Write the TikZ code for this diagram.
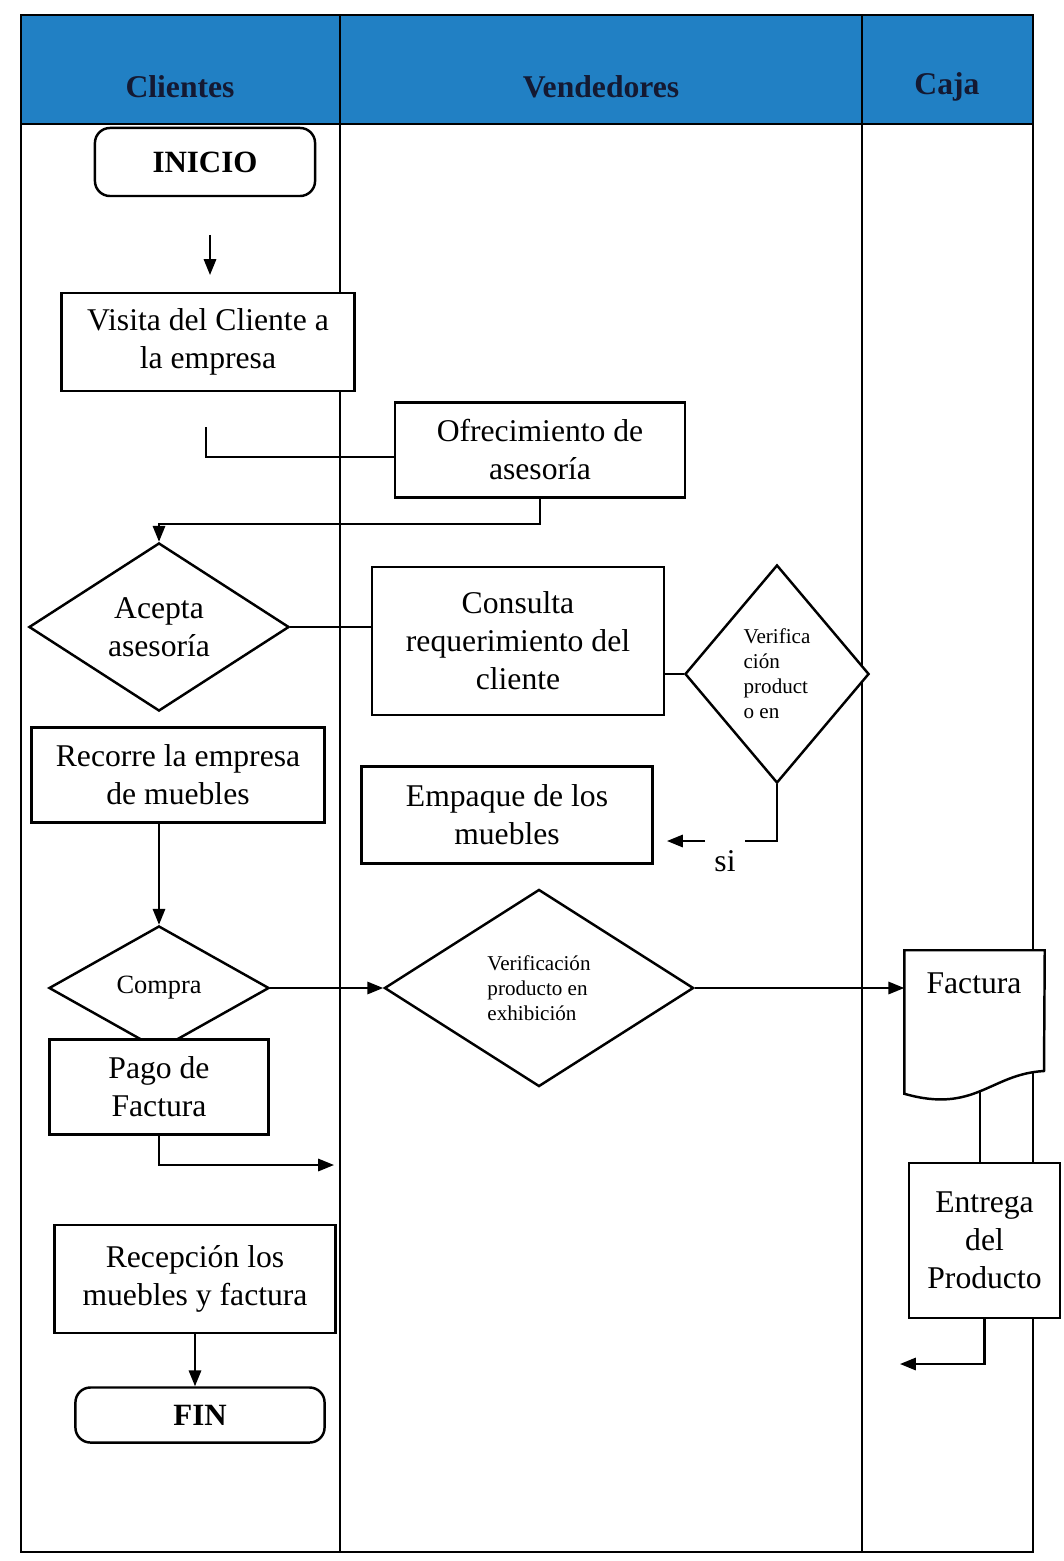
\documentclass[tikz,border=0pt]{standalone}
\usepackage{fontspec}
\setmainfont{Liberation Serif}
\usetikzlibrary{shapes.geometric,arrows.meta}
\definecolor{hdrblue}{RGB}{33,128,196}
\definecolor{hdrtext}{RGB}{20,25,50}
\begin{document}
\begin{tikzpicture}[x=0.01cm,y=-0.01cm,
  every node/.style={font=\fontsize{9}{10.8}\selectfont},
  hdr/.style={font=\fontsize{9}{10.8}\selectfont\bfseries, text=hdrtext},
  box/.style={draw, line width=0.7pt, fill=white, align=center, inner sep=0pt},
  term/.style={box, rounded corners=0.15cm, font=\fontsize{8.8}{10.5}\selectfont\bfseries},
  dec/.style={draw, line width=0.7pt, diamond, fill=white, inner sep=0pt, align=center},
  conn/.style={line width=0.6pt},
  arr/.style={conn, -{Triangle[length=4.5pt,width=3.5pt]}},
  lane/.style={line width=0.5pt},
  small/.style={font=\fontsize{6}{7.1}\selectfont, align=left}
]
\useasboundingbox (0,0) rectangle (1063,1561);
% lanes
\fill[hdrblue] (21,15) rectangle (1033,124);
\draw[lane] (21,15) rectangle (1033,1552);
\draw[lane] (21,124) -- (1033,124);
\draw[lane] (340,15) -- (340,1552);
\draw[lane] (862,15) -- (862,1552);
\node[hdr] (hcli) at (180,87) {Clientes};
\node[hdr] (hven) at (601,87) {Vendedores};
\node[hdr] (hcaj) at (947,87) {Caja};
% nodes
\node[term, minimum width=2.2cm, minimum height=0.68cm] (ini) at (205,162) {INICIO};
\node[box, minimum width=2.93cm, minimum height=0.98cm] (vis) at (208,342) {Visita del Cliente a\\la empresa};
\node[box, minimum width=2.9cm, minimum height=0.95cm] (ofr) at (540,450) {Ofrecimiento de\\asesoría};
\node[dec, minimum width=2.6cm, minimum height=1.68cm] (acp) at (159,627) {Acepta\\asesoría};
\node[box, minimum width=2.92cm, minimum height=1.48cm] (con) at (518,641) {Consulta\\requerimiento del\\cliente};
\node[dec, small, minimum width=1.84cm, minimum height=2.18cm] (vp1) at (777,674) {Verifica\\ción\\product\\o en};
\node[box, minimum width=2.91cm, minimum height=0.97cm] (emp) at (507,815) {Empaque de los\\muebles};
\node[box, minimum width=2.93cm, minimum height=0.95cm] (rco) at (178,775) {Recorre la empresa\\de muebles};
\node[dec, minimum width=2.2cm, minimum height=1.24cm, font=\fontsize{7.5}{9}\selectfont] (cmp) at (159,988) {Compra};
\node[box, minimum width=2.19cm, minimum height=0.95cm] (pag) at (159,1087) {Pago de\\Factura};
\node[dec, small, minimum width=3.09cm, minimum height=1.97cm] (vp2) at (539,988) {Verificación\\producto en\\exhibición};
% Factura document
\node[minimum width=1.39cm, minimum height=1.42cm, inner sep=0pt] (facdoc) at (974.5,1022) {};
\filldraw[line width=0.7pt, fill=white] (facdoc.north west) -- (facdoc.north east) -- (1044,1071)
  .. controls (990,1074) and (975,1114) .. (facdoc.south west) -- cycle;
\node (factxt) at (974,983) {Factura};
\node[box, minimum width=1.51cm, minimum height=1.55cm] (ent) at (984.5,1240.5) {Entrega\\del\\Producto};
\node[box, minimum width=2.81cm, minimum height=1.08cm] (rcp) at (195,1279) {Recepción los\\muebles y factura};
\node[term, minimum width=2.49cm, minimum height=0.55cm] (fin) at (200,1415) {FIN};
% connectors
\coordinate (a1s) at (210,235);
\coordinate (a1e) at (210,275);
\draw[arr] (a1s) -- (a1e);
\coordinate (c2) at (206,427);
\draw[conn] (c2) |- ([yshift=-0.07cm]ofr.west);
\coordinate (c3) at (0,524);
\draw[arr] (ofr.south) -- (ofr.south |- c3) -| (acp.north);
\draw[conn] (acp.east) -- (acp.east -| con.west);
\draw[conn] (con.east |- vp1.west) -- (vp1.west);
\coordinate (c6) at (745,841);
\draw[conn] (vp1.south) |- (c6);
\coordinate (c7) at (705,841);
\coordinate (c8) at (667,841);
\draw[arr] (c7) -- (c8);
\node (si) at (725,861) {si};
\draw[arr] (cmp.north |- rco.south) -- (cmp.north);
\draw[arr] (cmp.east) -- (vp2.west);
\draw[arr] (vp2.east) -- (vp2.east -| facdoc.west);
\coordinate (fb) at (980,1092);
\draw[conn] (fb) -- (fb |- ent.north);
\coordinate (c11) at (900,1364);
\draw[arr] (ent.south) |- (c11);
\coordinate (c12) at (334,1165);
\draw[arr] (pag.south) |- (c12);
\draw[arr] (rcp.south) -- (rcp.south |- fin.north);
\end{tikzpicture}
\end{document}
